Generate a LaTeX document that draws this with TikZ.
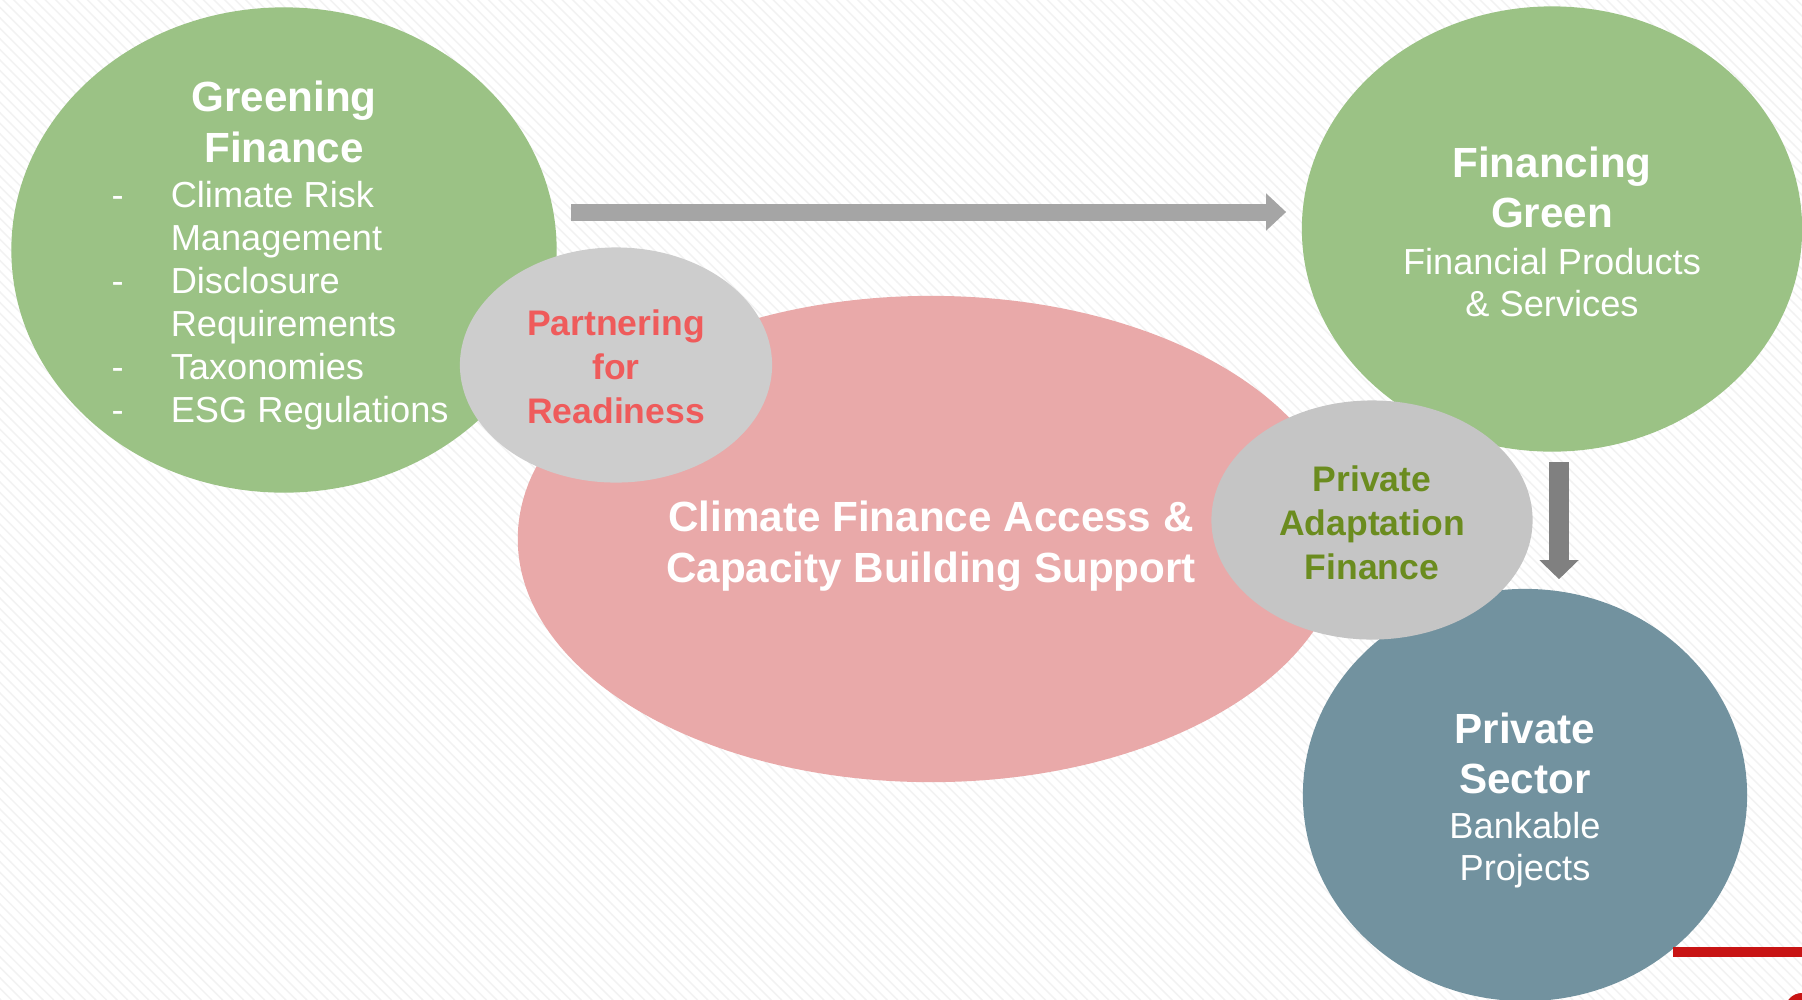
\documentclass[tikz,border=0pt]{standalone}
\usepackage{fontspec}
\setmainfont{Liberation Sans}
\usepackage{xcolor}
\usetikzlibrary{shapes.geometric,arrows.meta,patterns}

\definecolor{leafgreen}{HTML}{9BC285}
\definecolor{blush}{HTML}{E9A9A9}
\definecolor{mist}{HTML}{CDCDCD}
\definecolor{slate}{HTML}{72929F}
\definecolor{coral}{HTML}{EF5B5B}
\definecolor{olive}{HTML}{6B8C1F}
\definecolor{arrowlight}{HTML}{A5A5A5}
\definecolor{arrowdark}{HTML}{808080}
\definecolor{brandred}{HTML}{C81414}

\newcommand{\headfont}{\bfseries\fontsize{12}{14.4}\selectfont}
\newcommand{\itemfont}{\fontsize{10.3}{12.25}\selectfont}
\newcommand{\ringfont}{\bfseries\fontsize{10.1}{12.5}\selectfont}

\tikzset{
  blob/.style={ellipse, inner sep=0pt},
  caption/.style={inner sep=0pt, text=white, align=center},
  flow/.style={line width=0.17cm, arrowlight, -{Triangle[width=0.36cm,length=0.2cm]}},
}

\begin{document}
\begin{tikzpicture}[x=0.01cm, y=-0.01cm]
    \useasboundingbox (0,0) rectangle (1802,999);
    % Background
    \fill[white] (0,0) rectangle (1802,999);
    \fill[pattern=north west lines, pattern color=black!5] (0,0) rectangle (1802,999);

    % Greening Finance
    \node[blob, fill=leafgreen, minimum width=5.45cm, minimum height=4.85cm] (greening) at (284,250) {};
    \node[caption, font=\headfont] (greentitle) at (284,122) {Greening\\Finance};
    \node[caption, anchor=base west, font=\itemfont] (greenlist) at (111,207)
        {\begin{tabular}[t]{@{}l@{\hspace{0.47cm}}l@{}}
         - & Climate Risk\\
           & Management\\
         - & Disclosure\\
           & Requirements\\
         - & Taxonomies\\
         - & ESG Regulations
         \end{tabular}};

    % Climate finance (center)
    \node[blob, fill=blush, minimum width=8.26cm, minimum height=4.86cm] (climate) at (931,539) {};
    \node[caption, font=\headfont] (climtext) at ([yshift=-0.07cm]climate.center)
        {Climate Finance Access \&\\Capacity Building Support};

    % Financing Green
    \node[blob, fill=leafgreen, minimum width=5.0cm, minimum height=4.45cm] (fingreen) at (1552,229) {};
    \node[caption] (fintext) at ([yshift=-0.03cm]fingreen.center)
        {\headfont Financing\\[2.2pt]\headfont Green\\[1.4pt]\itemfont Financial Products\\\itemfont \& Services};

    % Private Sector
    \node[blob, fill=slate, minimum width=4.44cm, minimum height=4.12cm] (privsec) at (1525,795) {};
    \node[caption] (privtext) at ([yshift=-0.055cm]privsec.center)
        {\headfont Private\\[2.4pt]\headfont Sector\\[0.8pt]\itemfont Bankable\\\itemfont Projects};

    % Linking circles
    \node[blob, fill=mist, minimum width=3.12cm, minimum height=2.35cm] (partner) at (616,365) {};
    \node[caption, text=coral, font=\ringfont] (parttext) at ([yshift=-0.02cm]partner.center)
        {Partnering\\for\\Readiness};
    \node[blob, fill=mist!96!black, minimum width=3.21cm, minimum height=2.39cm] (adapt) at (1372,520) {};
    \node[caption, text=olive, font=\ringfont] (adapttext) at ([yshift=-0.03cm]adapt.center)
        {Private\\Adaptation\\Finance};

    % Arrows
    \coordinate (hstart) at (571,212);
    \draw[flow, shorten >=0.15cm] (hstart) -- (hstart -| fingreen.west);
    \coordinate (vstart) at (1559,462);
    \draw[flow, line width=0.2cm, arrowdark, -{Triangle[width=0.38cm,length=0.19cm]}, shorten >=0.09cm]
        (vstart) -- (vstart |- privsec.north);

    % Footer mark
    \fill[brandred] (1673,947) rectangle (1802,957);
    \fill[brandred] (1802,1010) circle (0.17cm);
\end{tikzpicture}
\end{document}
